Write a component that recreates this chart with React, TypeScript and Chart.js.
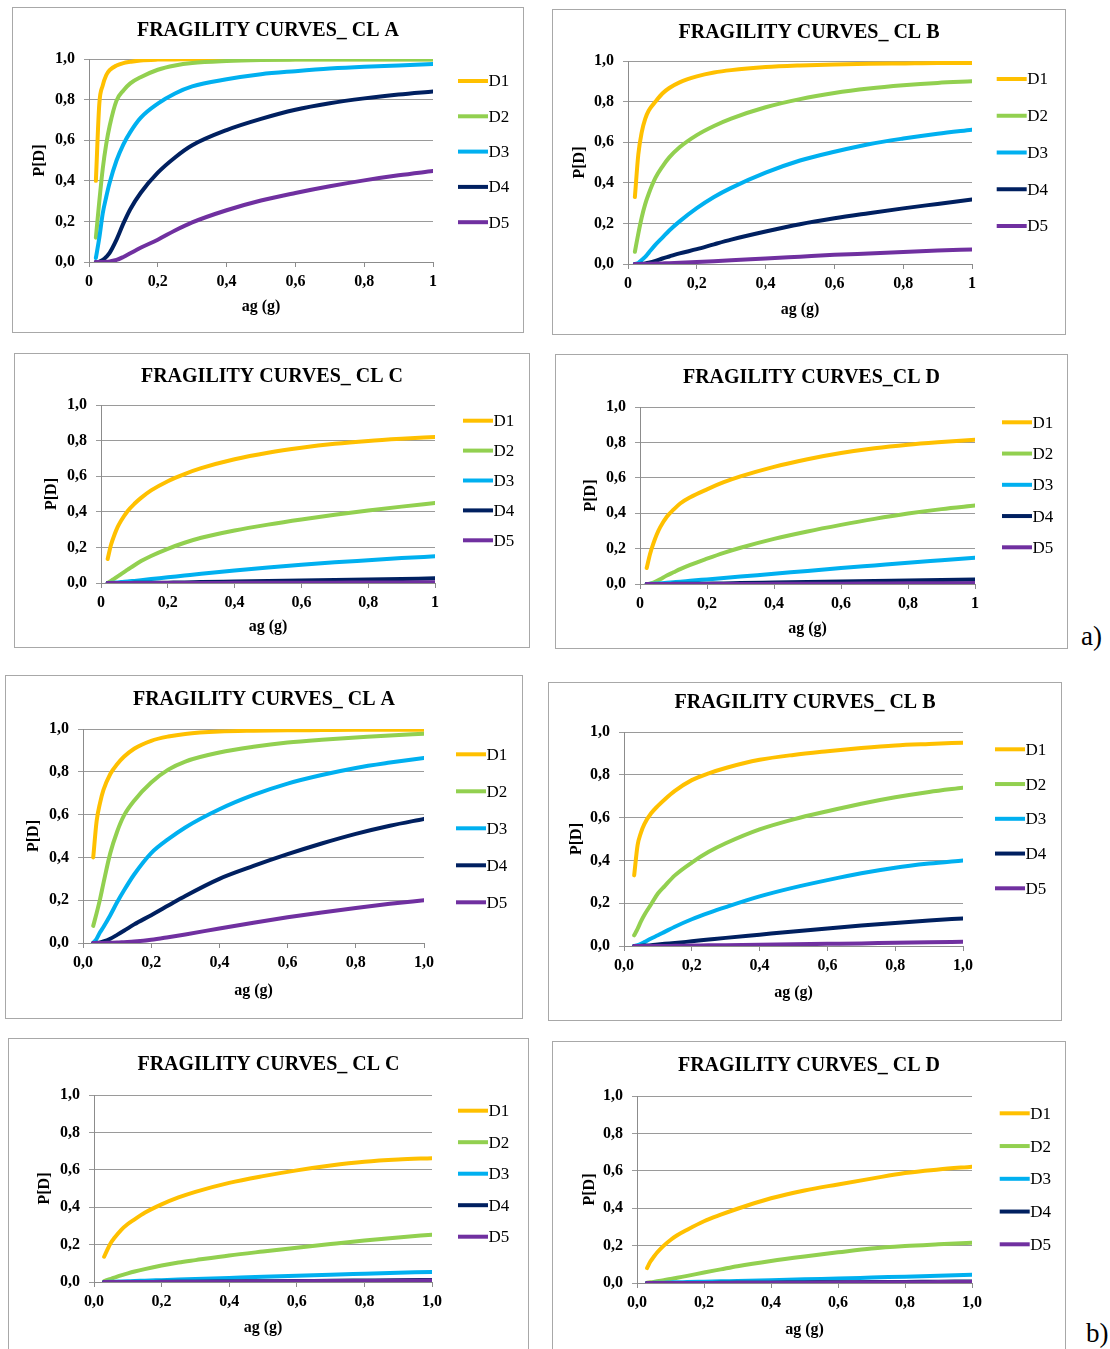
import { useEffect, useRef } from 'react';
import { Chart, registerables } from 'chart.js';

Chart.register(...registerables);

const SERIF = "'Liberation Serif', 'Times New Roman', serif";

// Peak ground acceleration sample points (g)
const agA = [0.02, 0.03, 0.04, 0.05, 0.06, 0.08, 0.1, 0.12, 0.15, 0.2, 0.25, 0.3, 0.4, 0.5, 0.6, 0.7, 0.8, 0.9, 1.0];
const agB = [0.03, 0.04, 0.05, 0.06, 0.08, 0.1, 0.12, 0.15, 0.2, 0.25, 0.3, 0.4, 0.5, 0.6, 0.7, 0.8, 0.9, 1.0];

// Axis tick labels
const xTicksA = ['0', '0,2', '0,4', '0,6', '0,8', '1'];
const xTicksB = ['0,0', '0,2', '0,4', '0,6', '0,8', '1,0'];
const yTicks = ['0,0', '0,2', '0,4', '0,6', '0,8', '1,0'];

// Damage states
const damageStates = ['D1', 'D2', 'D3', 'D4', 'D5'];
const damageColors = ['#FFC000', '#92D050', '#00B0F0', '#002060', '#7030A0'];

// a) probabilities of exceedance, one row per damage state (on agA)
const aClassA = [
  [0.40, 0.78, 0.87, 0.92, 0.945, 0.968, 0.98, 0.986, 0.993, 0.997, 0.998, 0.999, 0.999, 0.999, 0.999, 0.999, 0.999, 0.999, 0.999],
  [0.12, 0.30, 0.46, 0.58, 0.67, 0.795, 0.845, 0.88, 0.91, 0.947, 0.968, 0.98, 0.99, 0.995, 0.997, 0.998, 0.998, 0.998, 0.998],
  [0.02, 0.12, 0.24, 0.32, 0.39, 0.50, 0.58, 0.64, 0.71, 0.78, 0.83, 0.865, 0.90, 0.925, 0.94, 0.953, 0.962, 0.968, 0.975],
  [0, 0.002, 0.01, 0.025, 0.045, 0.11, 0.19, 0.26, 0.34, 0.44, 0.515, 0.575, 0.65, 0.705, 0.75, 0.782, 0.806, 0.825, 0.84],
  [0, 0, 0, 0.001, 0.003, 0.01, 0.025, 0.043, 0.07, 0.11, 0.155, 0.195, 0.255, 0.303, 0.34, 0.373, 0.402, 0.427, 0.448],
];
const aClassB = [
  [0.33, 0.54, 0.65, 0.715, 0.755, 0.80, 0.84, 0.867, 0.895, 0.924, 0.943, 0.955, 0.97, 0.978, 0.983, 0.986, 0.988, 0.99, 0.99],
  [0.06, 0.15, 0.23, 0.295, 0.345, 0.425, 0.48, 0.525, 0.575, 0.635, 0.68, 0.716, 0.772, 0.812, 0.842, 0.864, 0.88, 0.892, 0.90],
  [0.0, 0.005, 0.02, 0.035, 0.055, 0.095, 0.13, 0.165, 0.21, 0.275, 0.33, 0.375, 0.45, 0.51, 0.553, 0.59, 0.618, 0.642, 0.662],
  [0, 0, 0.001, 0.003, 0.006, 0.015, 0.027, 0.037, 0.052, 0.073, 0.097, 0.12, 0.16, 0.196, 0.225, 0.25, 0.274, 0.296, 0.318],
  [0, 0, 0, 0, 0.001, 0.002, 0.003, 0.004, 0.006, 0.01, 0.014, 0.019, 0.027, 0.036, 0.045, 0.052, 0.059, 0.066, 0.072],
];
const aClassC = [
  [0.135, 0.215, 0.27, 0.315, 0.35, 0.405, 0.445, 0.478, 0.52, 0.572, 0.612, 0.645, 0.695, 0.732, 0.76, 0.782, 0.798, 0.81, 0.82],
  [0.0, 0.012, 0.025, 0.037, 0.05, 0.075, 0.10, 0.123, 0.152, 0.192, 0.226, 0.254, 0.295, 0.328, 0.357, 0.383, 0.407, 0.429, 0.45],
  [0, 0.001, 0.002, 0.003, 0.005, 0.008, 0.012, 0.016, 0.022, 0.032, 0.042, 0.052, 0.07, 0.087, 0.102, 0.116, 0.128, 0.14, 0.15],
  [0, 0, 0, 0, 0, 0, 0.001, 0.001, 0.001, 0.002, 0.003, 0.005, 0.008, 0.011, 0.014, 0.017, 0.02, 0.023, 0.026],
  [0, 0, 0, 0, 0, 0, 0, 0, 0, 0, 0, 0, 0.001, 0.001, 0.002, 0.002, 0.003, 0.003, 0.004],
];
const aClassD = [
  [0.09, 0.17, 0.23, 0.28, 0.32, 0.38, 0.42, 0.455, 0.49, 0.535, 0.575, 0.608, 0.662, 0.705, 0.74, 0.767, 0.787, 0.802, 0.815],
  [0, 0.002, 0.008, 0.017, 0.027, 0.048, 0.066, 0.084, 0.108, 0.143, 0.176, 0.205, 0.255, 0.297, 0.334, 0.368, 0.398, 0.423, 0.443],
  [0, 0.001, 0.002, 0.003, 0.004, 0.007, 0.01, 0.013, 0.018, 0.026, 0.034, 0.042, 0.058, 0.074, 0.09, 0.105, 0.12, 0.134, 0.148],
  [0, 0, 0, 0, 0, 0, 0.001, 0.001, 0.001, 0.002, 0.003, 0.005, 0.008, 0.011, 0.014, 0.017, 0.02, 0.023, 0.026],
  [0, 0, 0, 0, 0, 0, 0, 0, 0, 0, 0, 0, 0.001, 0.002, 0.002, 0.003, 0.004, 0.004, 0.005],
];

// b) probabilities of exceedance, one row per damage state (on agB)
const bClassA = [
  [0.40, 0.57, 0.655, 0.715, 0.79, 0.835, 0.87, 0.908, 0.945, 0.965, 0.977, 0.988, 0.992, 0.994, 0.995, 0.996, 0.996, 0.997],
  [0.08, 0.14, 0.205, 0.28, 0.42, 0.52, 0.595, 0.665, 0.75, 0.81, 0.848, 0.89, 0.917, 0.937, 0.95, 0.96, 0.97, 0.978],
  [0.0, 0.02, 0.05, 0.075, 0.13, 0.19, 0.245, 0.32, 0.42, 0.485, 0.54, 0.625, 0.692, 0.745, 0.785, 0.818, 0.843, 0.865],
  [0, 0.001, 0.003, 0.007, 0.02, 0.038, 0.057, 0.087, 0.13, 0.175, 0.22, 0.30, 0.36, 0.415, 0.465, 0.51, 0.548, 0.58],
  [0, 0, 0, 0, 0.001, 0.002, 0.004, 0.007, 0.015, 0.027, 0.04, 0.068, 0.095, 0.12, 0.143, 0.164, 0.183, 0.20],
];
const bClassB = [
  [0.33, 0.47, 0.53, 0.57, 0.62, 0.655, 0.685, 0.725, 0.775, 0.807, 0.832, 0.87, 0.893, 0.91, 0.925, 0.937, 0.944, 0.95],
  [0.05, 0.08, 0.115, 0.145, 0.195, 0.245, 0.28, 0.33, 0.39, 0.44, 0.48, 0.545, 0.592, 0.63, 0.665, 0.695, 0.72, 0.74],
  [0.0, 0.004, 0.01, 0.018, 0.035, 0.05, 0.066, 0.09, 0.125, 0.155, 0.182, 0.232, 0.273, 0.308, 0.34, 0.366, 0.385, 0.40],
  [0, 0, 0.001, 0.002, 0.004, 0.007, 0.01, 0.014, 0.022, 0.03, 0.038, 0.053, 0.068, 0.082, 0.096, 0.108, 0.119, 0.129],
  [0, 0, 0, 0, 0, 0, 0, 0.001, 0.002, 0.003, 0.004, 0.006, 0.008, 0.01, 0.012, 0.015, 0.017, 0.02],
];
const bClassC = [
  [0.135, 0.175, 0.21, 0.235, 0.278, 0.31, 0.335, 0.37, 0.415, 0.452, 0.482, 0.53, 0.566, 0.597, 0.623, 0.643, 0.655, 0.662],
  [0.005, 0.011, 0.017, 0.023, 0.035, 0.046, 0.056, 0.069, 0.088, 0.104, 0.117, 0.142, 0.163, 0.183, 0.203, 0.222, 0.238, 0.253],
  [0, 0.001, 0.001, 0.002, 0.003, 0.004, 0.005, 0.007, 0.01, 0.013, 0.016, 0.022, 0.028, 0.033, 0.039, 0.044, 0.049, 0.054],
  [0, 0, 0, 0, 0, 0, 0, 0, 0.001, 0.001, 0.002, 0.003, 0.004, 0.005, 0.007, 0.008, 0.009, 0.011],
  [0, 0, 0, 0, 0, 0, 0, 0, 0, 0.001, 0.001, 0.002, 0.003, 0.004, 0.005, 0.006, 0.007, 0.008],
];
const bClassD = [
  [0.08, 0.115, 0.14, 0.163, 0.2, 0.23, 0.255, 0.285, 0.33, 0.365, 0.397, 0.453, 0.495, 0.527, 0.558, 0.588, 0.607, 0.622],
  [0.002, 0.004, 0.006, 0.009, 0.015, 0.021, 0.028, 0.038, 0.056, 0.073, 0.09, 0.118, 0.142, 0.164, 0.185, 0.198, 0.207, 0.215],
  [0, 0, 0.001, 0.001, 0.002, 0.003, 0.004, 0.005, 0.007, 0.009, 0.011, 0.015, 0.02, 0.024, 0.029, 0.034, 0.039, 0.044],
  [0, 0, 0, 0, 0, 0, 0, 0, 0, 0.001, 0.001, 0.002, 0.003, 0.004, 0.005, 0.006, 0.007, 0.008],
  [0, 0, 0, 0, 0, 0, 0, 0, 0, 0, 0.001, 0.001, 0.002, 0.003, 0.004, 0.004, 0.005, 0.006],
];

type PanelSpec = {
  title: string;
  xs: number[];
  xLabels: string[];
  series: number[][];
  box: [number, number, number, number];
  plot: [number, number, number, number];
  titleY: number;
  legend: { dx: number; y0: number; gap: number };
  xTitleOff: number;
  yTitleOff: number;
};

const panels: PanelSpec[] = [
  { title: 'FRAGILITY CURVES_ CL A', xs: agA, xLabels: xTicksA, series: aClassA,
    box: [12, 7, 524, 333], plot: [89, 59, 433, 262], titleY: 23.5,
    legend: { dx: 25, y0: 22, gap: 35.3 }, xTitleOff: 26.3, yTitleOff: 28 },
  { title: 'FRAGILITY CURVES_ CL B', xs: agA, xLabels: xTicksA, series: aClassB,
    box: [552, 9, 1066, 335], plot: [628, 61, 972, 264], titleY: 24,
    legend: { dx: 24.7, y0: 18, gap: 36.75 }, xTitleOff: 25, yTitleOff: 28 },
  { title: 'FRAGILITY CURVES_ CL C', xs: agA, xLabels: xTicksA, series: aClassC,
    box: [14, 353, 530, 648], plot: [101, 405, 435, 583], titleY: 24.3,
    legend: { dx: 28, y0: 15.7, gap: 29.9 }, xTitleOff: 20.7, yTitleOff: 38 },
  { title: 'FRAGILITY CURVES_CL D', xs: agA, xLabels: xTicksA, series: aClassD,
    box: [555, 354, 1068, 649], plot: [640, 407, 975, 584], titleY: 24,
    legend: { dx: 27, y0: 15.3, gap: 31.25 }, xTitleOff: 20, yTitleOff: 36.3 },
  { title: 'FRAGILITY CURVES_ CL A', xs: agB, xLabels: xTicksB, series: bClassA,
    box: [5, 675, 523, 1019], plot: [83, 729, 424, 943], titleY: 24.6,
    legend: { dx: 32, y0: 25.3, gap: 37 }, xTitleOff: 28, yTitleOff: 28.6 },
  { title: 'FRAGILITY CURVES_ CL B', xs: agB, xLabels: xTicksB, series: bClassB,
    box: [548, 682, 1062, 1021], plot: [624, 732, 963, 946], titleY: 21,
    legend: { dx: 32, y0: 17.3, gap: 34.75 }, xTitleOff: 27.7, yTitleOff: 28.7 },
  { title: 'FRAGILITY CURVES_ CL C', xs: agB, xLabels: xTicksB, series: bClassC,
    box: [8, 1038, 529, 1360], plot: [94, 1095, 432, 1282], titleY: 26.6,
    legend: { dx: 26, y0: 15.7, gap: 31.5 }, xTitleOff: 31.7, yTitleOff: 37 },
  { title: 'FRAGILITY CURVES_ CL D', xs: agB, xLabels: xTicksB, series: bClassD,
    box: [552, 1041, 1066, 1360], plot: [637, 1096, 972, 1283], titleY: 24.6,
    legend: { dx: 27.7, y0: 17.3, gap: 32.75 }, xTitleOff: 30, yTitleOff: 37.7 },
];

const TICK_SIZE = 16;
const AXIS_TITLE_SIZE = 16;
const tickFont = { family: SERIF, size: TICK_SIZE, weight: 'bold' as const };
const axisTitleFont = { family: SERIF, size: AXIS_TITLE_SIZE, weight: 'bold' as const, lineHeight: 1.2 };
const halfTitleLine = (AXIS_TITLE_SIZE * 1.2) / 2;
const gridColor = '#9a9a9a';
const axisColor = '#8c8c8c';

function FragilityPanel({ spec }: { spec: PanelSpec }) {
  const ref = useRef<HTMLCanvasElement>(null);
  const [bl, bt, br, bb] = spec.box;
  const [pl, pt, pr, pb] = spec.plot;
  const W = br - bl;
  const H = bb - bt;

  useEffect(() => {
    if (!ref.current) return;
    const decor = {
      id: 'panelDecor',
      beforeDraw(chart: Chart) {
        const ctx = chart.ctx;
        ctx.save();
        ctx.fillStyle = '#ffffff';
        ctx.fillRect(0, 0, chart.width, chart.height);
        ctx.strokeStyle = '#a8a8a8';
        ctx.lineWidth = 1;
        ctx.strokeRect(0.5, 0.5, chart.width - 1, chart.height - 1);
        ctx.restore();
      },
      afterDraw(chart: Chart) {
        const ctx = chart.ctx;
        const area = chart.chartArea;
        ctx.save();
        ctx.fillStyle = '#000000';
        ctx.font = `bold 20px ${SERIF}`;
        ctx.textAlign = 'center';
        ctx.textBaseline = 'middle';
        ctx.fillText(spec.title, chart.width / 2, spec.titleY);

        ctx.font = `17px ${SERIF}`;
        ctx.textAlign = 'left';
        chart.data.datasets.forEach((ds, i) => {
          const y = area.top + spec.legend.y0 + i * spec.legend.gap;
          const x0 = area.right + spec.legend.dx;
          ctx.strokeStyle = ds.borderColor as string;
          ctx.lineWidth = 4;
          ctx.lineCap = 'butt';
          ctx.beginPath();
          ctx.moveTo(x0, y);
          ctx.lineTo(x0 + 30, y);
          ctx.stroke();
          ctx.fillStyle = '#000000';
          ctx.fillText(ds.label as string, x0 + 30.5, y + 1);
        });
        ctx.restore();
      },
    };

    const chart = new Chart(ref.current, {
      type: 'line',
      data: {
        datasets: spec.series.map((ys, i) => ({
          label: damageStates[i],
          data: spec.xs.map((x, j) => ({ x, y: ys[j] })),
          borderColor: damageColors[i],
          backgroundColor: damageColors[i],
          borderWidth: 4,
          pointRadius: 0,
          fill: false,
          cubicInterpolationMode: 'monotone' as const,
          borderCapStyle: 'round' as const,
          borderJoinStyle: 'round' as const,
          order: damageStates.length - i,
        })),
      },
      options: {
        animation: false,
        responsive: false,
        devicePixelRatio: 1,
        events: [],
        layout: { padding: { top: pt - bt, right: br - pr, bottom: 0, left: 0 } },
        plugins: {
          legend: { display: false },
          tooltip: { enabled: false },
          title: { display: false },
        },
        scales: {
          x: {
            type: 'linear',
            min: 0,
            max: 1,
            ticks: {
              stepSize: 0.2,
              autoSkip: false,
              maxRotation: 0,
              padding: 5,
              color: '#000000',
              font: tickFont,
              callback: (_v: unknown, i: number) => spec.xLabels[i],
            },
            grid: { drawOnChartArea: false, drawTicks: true, tickLength: 5, color: axisColor },
            border: { display: true, color: axisColor, width: 1 },
            title: {
              display: true,
              text: 'ag (g)',
              color: '#000000',
              font: axisTitleFont,
              padding: { top: 0, bottom: spec.xTitleOff - halfTitleLine },
            },
            afterFit: (s: any) => { s.height = bb - pb; },
          },
          y: {
            type: 'linear',
            min: 0,
            max: 1,
            ticks: {
              stepSize: 0.2,
              padding: 9,
              color: '#000000',
              font: tickFont,
              callback: (_v: unknown, i: number) => yTicks[i],
            },
            grid: { color: gridColor, drawTicks: true, tickLength: 5 },
            border: { display: true, color: axisColor, width: 1 },
            title: {
              display: true,
              text: 'P[D]',
              color: '#000000',
              font: axisTitleFont,
              padding: { top: spec.yTitleOff - halfTitleLine, bottom: 0 },
            },
            afterFit: (s: any) => { s.width = pl - bl; },
          },
        },
      },
      plugins: [decor],
    });
    return () => chart.destroy();
  }, [spec]);

  return (
    <canvas
      ref={ref}
      width={W}
      height={H}
      style={{ position: 'absolute', left: bl, top: bt, width: W, height: H }}
    />
  );
}

const captionStyle = {
  position: 'absolute' as const,
  fontFamily: SERIF,
  fontSize: 27,
  lineHeight: '27px',
  color: '#000',
};

export default function App() {
  return (
    <div
      style={{
        position: 'absolute',
        left: 0,
        top: 0,
        width: 1110,
        height: 1349,
        overflow: 'hidden',
        background: '#ffffff',
      }}
    >
      {panels.map((p, i) => (
        <FragilityPanel key={i} spec={p} />
      ))}
      <div style={{ ...captionStyle, left: 1081, top: 623 }}>a)</div>
      <div style={{ ...captionStyle, left: 1086, top: 1320 }}>b)</div>
    </div>
  );
}
